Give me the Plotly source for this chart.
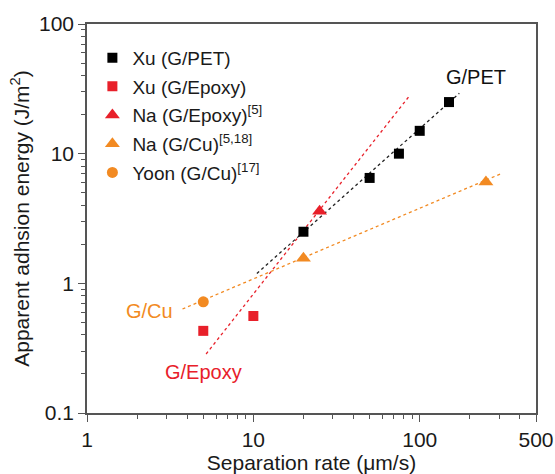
import plotly.graph_objects as go

# Data
pet_rate = [20, 50, 75, 100, 150]
pet_energy = [2.5, 6.5, 10, 15, 25]

xu_epoxy_rate = [5, 10]
xu_epoxy_energy = [0.43, 0.56]

na_epoxy_rate = [25]
na_epoxy_energy = [3.6]

na_cu_rate = [20, 250]
na_cu_energy = [1.56, 6.05]

yoon_rate = [5]
yoon_energy = [0.72]

# Fit lines (endpoints in data units)
fit_pet_x = [10.5, 173]
fit_pet_y = [1.19, 29.2]
fit_epoxy_x = [5.2, 86]
fit_epoxy_y = [0.285, 27.5]
fit_cu_x = [3.75, 312]
fit_cu_y = [0.634, 7.05]

x_ticks = [1, 10, 100, 500]
x_ticklabels = ["1", "10", "100", "500"]
y_ticks = [0.1, 1, 10, 100]
y_ticklabels = ["0.1", "1", "10", "100"]

RED = "#e8202a"
ORANGE = "#f28a22"
BLACK = "#000000"
TXT = "#1a1a1a"

fig = go.Figure()

# fit lines
fig.add_trace(go.Scatter(x=fit_epoxy_x, y=fit_epoxy_y, mode="lines",
                         line=dict(color=RED, width=1.3, dash="dot"), showlegend=False))
fig.add_trace(go.Scatter(x=fit_pet_x, y=fit_pet_y, mode="lines",
                         line=dict(color="#222222", width=1.3, dash="dot"), showlegend=False))
fig.add_trace(go.Scatter(x=fit_cu_x, y=fit_cu_y, mode="lines",
                         line=dict(color=ORANGE, width=1.3, dash="dot"), showlegend=False))

fig.add_trace(go.Scatter(x=pet_rate, y=pet_energy, mode="markers", name="Xu (G/PET)",
                         legendgroup="a",
                         marker=dict(symbol="square", size=10, color=BLACK)))
fig.add_trace(go.Scatter(x=xu_epoxy_rate, y=xu_epoxy_energy, mode="markers", name="Xu (G/Epoxy)",
                         legendgroup="b",
                         marker=dict(symbol="square", size=10, color=RED)))
fig.add_trace(go.Scatter(x=na_epoxy_rate, y=na_epoxy_energy, mode="markers",
                         name="Na (G/Epoxy)<sup>[5]</sup>", legendgroup="c",
                         marker=dict(symbol="triangle-up", size=13, color=RED)))
fig.add_trace(go.Scatter(x=na_cu_rate, y=na_cu_energy, mode="markers",
                         name="Na (G/Cu)<sup>[5,18]</sup>", legendgroup="d",
                         marker=dict(symbol="triangle-up", size=13, color=ORANGE)))
fig.add_trace(go.Scatter(x=yoon_rate, y=yoon_energy, mode="markers",
                         name="Yoon (G/Cu)<sup>[17]</sup>", legendgroup="e",
                         marker=dict(symbol="circle", size=11, color=ORANGE)))

minor_x = [2, 3, 4, 5, 6, 7, 8, 9, 20, 30, 40, 50, 60, 70, 80, 90, 200, 300, 400]
minor_y = [v * d for d in (0.1, 1, 10) for v in (2, 3, 4, 5, 6, 7, 8, 9)]

axis_common = dict(showline=True, linecolor="#555555", linewidth=1.5, mirror=True,
                   ticks="outside", ticklen=7, tickwidth=1.2, tickcolor="#555555",
                   showgrid=False, zeroline=False, automargin=False,
                   ticklabeloverflow="allow",
                   tickfont=dict(size=21, color=TXT))

fig.update_xaxes(type="log", range=[0, 2.699], tickvals=x_ticks, ticktext=x_ticklabels,
                 minor=dict(tickvals=minor_x, ticks="outside", ticklen=4, tickcolor="#555555",
                            showgrid=False),
                 title=dict(text="Separation rate (μm/s)", font=dict(size=21, color=TXT),
                            standoff=2),
                 **axis_common)
fig.update_yaxes(type="log", range=[-1, 2], tickvals=y_ticks, ticktext=y_ticklabels,
                 minor=dict(tickvals=minor_y, ticks="outside", ticklen=4, tickcolor="#555555",
                            showgrid=False),
                 title=dict(text="Apparent adhsion energy (J/m<sup>2</sup>)",
                            font=dict(size=21, color=TXT), standoff=4),
                 **axis_common)

fig.add_annotation(x=2.338, y=1.593, xref="x", yref="y", text="G/PET", showarrow=False,
                   font=dict(size=20, color="#111111"))
fig.add_annotation(x=0.378, y=-0.214, xref="x", yref="y", text="G/Cu", showarrow=False,
                   font=dict(size=20, color=ORANGE))
fig.add_annotation(x=0.699, y=-0.682, xref="x", yref="y", text="G/Epoxy", showarrow=False,
                   font=dict(size=20, color=RED))

fig.update_layout(
    width=555, height=474,
    margin=dict(l=87, r=19, t=24, b=61),
    paper_bgcolor="white", plot_bgcolor="white",
    font=dict(family="Liberation Sans, Arial, sans-serif", color=TXT),
    legend=dict(x=0.012, y=0.962, xanchor="left", yanchor="top",
                font=dict(size=19, color=TXT), tracegroupgap=1,
                bgcolor="rgba(0,0,0,0)", itemwidth=30),
)

# remove the default page margin so the figure fills the window exactly
fig.write_html("out.html", config={"displayModeBar": False},
               post_script="document.body.style.margin='0';document.body.style.overflow='hidden';")
